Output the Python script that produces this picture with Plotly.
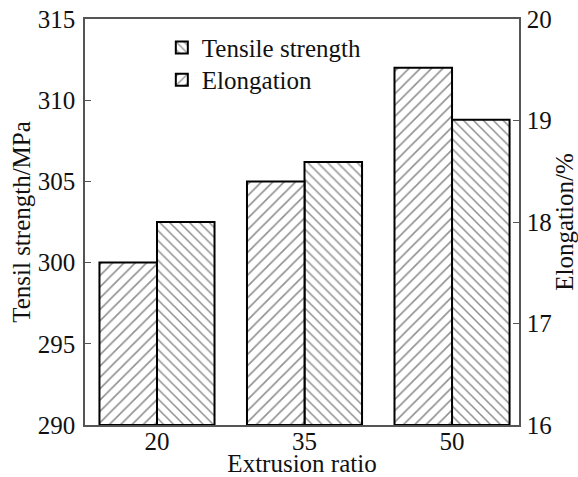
import plotly.graph_objects as go

categories = ["20", "35", "50"]
tensile_strength = [302.5, 306.2, 308.8]   # MPa, left axis ("\" hatch)
elongation = [17.6, 18.4, 19.52]           # %, right axis ("/" hatch)

left_ticks = [290, 295, 300, 305, 310, 315]
right_ticks = [16, 17, 18, 19, 20]

FONT = "Liberation Serif, Times New Roman, serif"
FS = 25
BW = 0.39
LEFT_BASE = left_ticks[0]
RIGHT_BASE = right_ticks[0]

fig = go.Figure()
fig.add_trace(go.Bar(
    x=categories, y=[v - LEFT_BASE for v in tensile_strength], name="Tensile strength",
    base=LEFT_BASE, offset=0, width=BW, yaxis="y", legend="legend",
    marker=dict(color="white", line=dict(color="black", width=2),
                pattern=dict(shape="\\", fgcolor="#222", bgcolor="white", size=7, solidity=0.22)),
))
fig.add_trace(go.Bar(
    x=categories, y=[v - RIGHT_BASE for v in elongation], name="Elongation",
    base=RIGHT_BASE, offset=-BW, width=BW, yaxis="y2", legend="legend2",
    marker=dict(color="white", line=dict(color="black", width=2),
                pattern=dict(shape="/", fgcolor="#222", bgcolor="white", size=8, solidity=0.2)),
))

axis_line = dict(showline=True, linecolor="#555", linewidth=1.5)
legend_style = dict(xanchor="left", yanchor="middle", bgcolor="rgba(0,0,0,0)",
                    font=dict(size=FS, family=FONT))

fig.update_layout(
    width=578, height=477,
    margin=dict(l=85, r=59, t=19, b=52, autoexpand=False),
    paper_bgcolor="white", plot_bgcolor="white",
    barmode="overlay",
    font=dict(family=FONT, size=FS, color="#111"),
    showlegend=True,
    legend=dict(x=0.177, y=0.929, **legend_style),
    legend2=dict(x=0.177, y=0.85, **legend_style),
    xaxis=dict(type="category", range=[-0.488, 2.454], showgrid=False,
               ticks="", mirror=True, ticklabelstandoff=-7, automargin=False,
               tickfont=dict(size=FS),
               title=dict(text="Extrusion ratio", standoff=0, font=dict(size=FS)), **axis_line),
    yaxis=dict(range=[290, 315], tickvals=left_ticks, showgrid=False,
               ticks="inside", ticklen=6, tickcolor="#555", zeroline=False,
               ticklabelstandoff=3, tickfont=dict(size=FS), automargin=False,
               title=dict(text="Tensil strength/MPa", standoff=0, font=dict(size=FS)), **axis_line),
    yaxis2=dict(range=[16, 20], tickvals=right_ticks, overlaying="y", side="right",
                showgrid=False, ticks="inside", ticklen=6, tickcolor="#555",
                zeroline=False, ticklabelstandoff=1, tickfont=dict(size=FS), automargin=False,
                title=dict(text="Elongation/%", standoff=0, font=dict(size=FS)), **axis_line),
)

fig.write_html("out.html", config={"displayModeBar": False},
               post_script="document.body.style.margin='0';")
